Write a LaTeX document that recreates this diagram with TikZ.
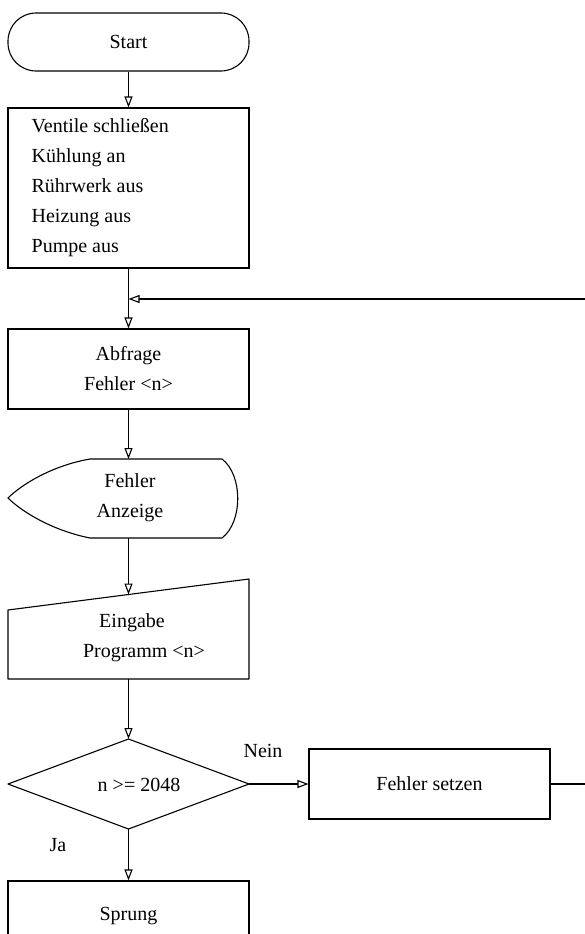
\documentclass[tikz,border=0pt]{standalone}
\usepackage{fontspec}
\setmainfont{Liberation Serif}
\usetikzlibrary{arrows.meta}
\begin{document}
\begin{tikzpicture}[x=1pt,y=-1pt,
  every node/.style={font=\fontsize{20}{30}\selectfont},
  flow/.style={draw, line width=1.1pt, inner sep=0pt},
  shapeline/.style={line width=1.1pt, line join=round},
  plain/.style={line width=1.1pt},
  conn/.style={line width=1.1pt, -{Triangle[open,length=11pt,width=8pt]}}]
\useasboundingbox (0,0) rectangle (584,934);
% boxes
\node[flow, rounded corners=28pt, minimum width=241pt, minimum height=58pt] (start) at (128.5,42) {Start};
\node[flow, minimum width=241pt, minimum height=160pt] (init) at (128.5,188) {};
\node[anchor=west, align=left, inner sep=0pt] (inittext) at ([xshift=24pt]init.west) {Ventile schließen\\Kühlung an\\Rührwerk aus\\Heizung aus\\Pumpe aus};
\coordinate (junc) at (128.5,299);
\node[flow, minimum width=241pt, minimum height=80pt, align=center] (query) at (128.5,369) {Abfrage\\Fehler <n>};
% display
\draw[shapeline] (90,459) -- (222,459) .. controls (243,475) and (243,522) .. (222,538)
  -- (90,538) .. controls (50,530) and (20,510) .. (8,498)
  .. controls (20,486) and (50,466) .. cycle;
\node[align=center] (disp) at (130,498) {Fehler\\Anzeige};
\coordinate (dispT) at (128.5,459);
\coordinate (dispB) at (128.5,538);
% manual input
\draw[shapeline] (8,610) -- (249,579) -- (249,679) -- (8,679) -- cycle;
\node[align=center] (input) at (132,638) {Eingabe\\\hspace*{1.2em}Programm <n>};
\coordinate (inT) at (128.5,594.5);
\coordinate (inB) at (128.5,679);
% decision
\draw[shapeline] (128.5,739) -- (249,784) -- (128.5,829) -- (8,784) -- cycle;
\node (cond) at (139,785) {n >= 2048};
\coordinate (dT) at (128.5,739);
\coordinate (dR) at (249,784);
\coordinate (dB) at (128.5,829);
\node[flow, minimum width=241pt, minimum height=70pt] (fs) at (429.5,784) {Fehler setzen};
\node[flow, minimum width=241pt, minimum height=70pt] (sprung) at (128.5,916) {Sprung};
% labels
\node (nein) at (263,751) {Nein};
\node (ja) at (58,845) {Ja};
% connectors
\draw[conn] (start) -- (init);
\draw[plain] (init.south) -- (junc);
\draw[conn] (junc) -- (query);
\draw[conn] (fs.east) -- ++(45,0) |- (junc);
\draw[conn] (query) -- (dispT);
\draw[conn] (dispB) -- (inT);
\draw[conn] (inB) -- (dT);
\draw[conn] (dR) -- (fs);
\draw[conn] (dB) -- (sprung);
\end{tikzpicture}
\end{document}
